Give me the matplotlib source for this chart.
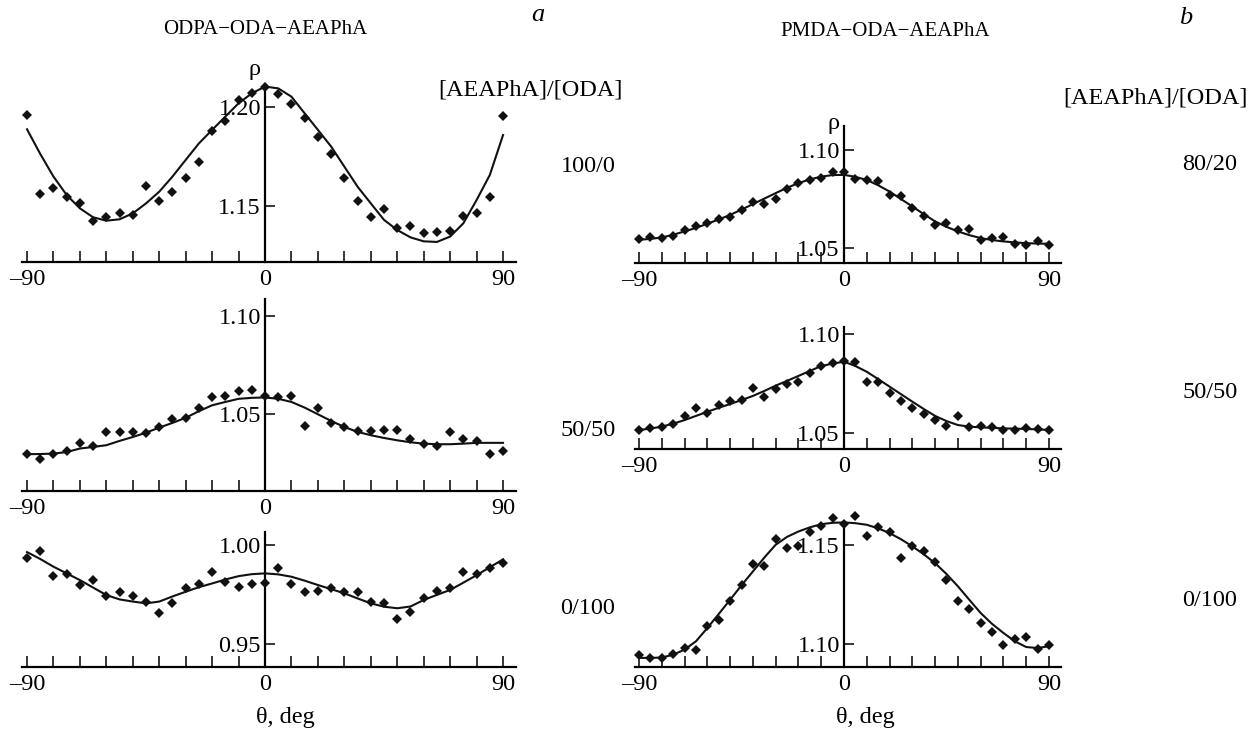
import numpy as np
import matplotlib
matplotlib.use('Agg')
import matplotlib.pyplot as plt
from matplotlib.ticker import FixedLocator, NullFormatter

plt.rcParams['font.family'] = ['Liberation Serif', 'DejaVu Serif']
plt.rcParams['font.size'] = 17.5

# Angles (deg)
theta = [-90, -85, -80, -75, -70, -65, -60, -55, -50, -45, -40, -35, -30, -25, -20, -15, -10, -5,
         0, 5, 10, 15, 20, 25, 30, 35, 40, 45, 50, 55, 60, 65, 70, 75, 80, 85, 90]

# a) ODPA-ODA-AEAPhA, [AEAPhA]/[ODA] = 100/0
a100_pts = [1.1958, 1.1560, 1.1589, 1.1544, 1.1513, 1.1426, 1.1446, 1.1466, 1.1456,
            1.1601, 1.1525, 1.1572, 1.1639, 1.1721, 1.1878, 1.1928, 1.2034, 1.2067,
            1.2097, 1.2064, 1.2013, 1.1941, 1.1846, 1.1762, 1.1641, 1.1525, 1.1446,
            1.1487, 1.1388, 1.1399, 1.1366, 1.1367, 1.1376, 1.1450, 1.1466, 1.1544, 1.1953]
a100_fit = [1.1886, 1.1762, 1.1648, 1.1555, 1.1488, 1.1443, 1.1426, 1.1433, 1.1463,
            1.1513, 1.1572, 1.1648, 1.1732, 1.1815, 1.1883, 1.1950, 1.2017, 1.2067,
            1.2101, 1.2092, 1.2050, 1.1966, 1.1883, 1.1799, 1.1698, 1.1597, 1.1513,
            1.1430, 1.1379, 1.1342, 1.1322, 1.1319, 1.1346, 1.1413, 1.1530, 1.1656, 1.1857]

# a) 50/50
a50_pts = [1.0297, 1.0271, 1.0297, 1.0309, 1.0352, 1.0334, 1.0408, 1.0408, 1.0408,
           1.0403, 1.0433, 1.0476, 1.0480, 1.0531, 1.0584, 1.0590, 1.0616, 1.0621,
           1.0590, 1.0584, 1.0590, 1.0439, 1.0532, 1.0451, 1.0433, 1.0413, 1.0413,
           1.0416, 1.0416, 1.0374, 1.0345, 1.0338, 1.0408, 1.0374, 1.0362, 1.0297, 1.0309]
a50_fit = [1.0294, 1.0295, 1.0297, 1.0305, 1.0323, 1.0331, 1.0340, 1.0362, 1.0382,
           1.0404, 1.0430, 1.0454, 1.0480, 1.0514, 1.0544, 1.0561, 1.0577, 1.0582,
           1.0584, 1.0577, 1.0561, 1.0532, 1.0498, 1.0464, 1.0433, 1.0408, 1.0391,
           1.0377, 1.0365, 1.0355, 1.0348, 1.0345, 1.0345, 1.0348, 1.0352, 1.0352, 1.0352]

# a) 0/100
a0_pts = [0.9936, 0.9970, 0.9843, 0.9852, 0.9798, 0.9823, 0.9744, 0.9764, 0.9744,
          0.9710, 0.9658, 0.9705, 0.9781, 0.9803, 0.9865, 0.9811, 0.9790, 0.9803,
          0.9810, 0.9886, 0.9801, 0.9764, 0.9769, 0.9781, 0.9764, 0.9764, 0.9714,
          0.9705, 0.9625, 0.9663, 0.9731, 0.9769, 0.9781, 0.9862, 0.9854, 0.9882, 0.9912]
a0_fit = [0.9965, 0.9930, 0.9891, 0.9857, 0.9823, 0.9785, 0.9747, 0.9725, 0.9714,
          0.9705, 0.9714, 0.9740, 0.9764, 0.9787, 0.9806, 0.9826, 0.9843, 0.9853,
          0.9857, 0.9852, 0.9840, 0.9820, 0.9798, 0.9777, 0.9756, 0.9730, 0.9705,
          0.9688, 0.9680, 0.9689, 0.9722, 0.9748, 0.9773, 0.9810, 0.9848, 0.9888, 0.9928]

# b) PMDA-ODA-AEAPhA, 80/20
b80_pts = [1.0546, 1.0559, 1.0551, 1.0564, 1.0593, 1.0610, 1.0627, 1.0647, 1.0658,
           1.0695, 1.0737, 1.0725, 1.0749, 1.0800, 1.0831, 1.0847, 1.0856, 1.0890,
           1.0886, 1.0853, 1.0847, 1.0842, 1.0771, 1.0763, 1.0703, 1.0661, 1.0619,
           1.0627, 1.0590, 1.0597, 1.0539, 1.0549, 1.0556, 1.0520, 1.0517, 1.0537, 1.0517]
b80_fit = [1.0542, 1.0547, 1.0554, 1.0568, 1.0585, 1.0603, 1.0624, 1.0646, 1.0669,
           1.0696, 1.0724, 1.0752, 1.0780, 1.0807, 1.0831, 1.0850, 1.0864, 1.0872,
           1.0873, 1.0863, 1.0847, 1.0820, 1.0788, 1.0750, 1.0712, 1.0673, 1.0636,
           1.0608, 1.0585, 1.0566, 1.0551, 1.0541, 1.0534, 1.0529, 1.0525, 1.0523, 1.0522]

# b) 50/50
b50_pts = [1.0517, 1.0529, 1.0530, 1.0547, 1.0588, 1.0626, 1.0601, 1.0641, 1.0663,
           1.0668, 1.0731, 1.0682, 1.0724, 1.0751, 1.0758, 1.0806, 1.0842, 1.0854,
           1.0865, 1.0862, 1.0758, 1.0758, 1.0705, 1.0663, 1.0626, 1.0598, 1.0567,
           1.0537, 1.0588, 1.0534, 1.0537, 1.0530, 1.0517, 1.0517, 1.0529, 1.0522, 1.0517]
b50_fit = [1.0517, 1.0524, 1.0534, 1.0549, 1.0567, 1.0588, 1.0609, 1.0629, 1.0648,
           1.0668, 1.0689, 1.0714, 1.0741, 1.0765, 1.0790, 1.0815, 1.0840, 1.0852,
           1.0862, 1.0840, 1.0811, 1.0774, 1.0736, 1.0698, 1.0660, 1.0623, 1.0588,
           1.0562, 1.0542, 1.0534, 1.0530, 1.0528, 1.0525, 1.0524, 1.0522, 1.0520, 1.0517]

# b) 0/100
b0_pts = [1.0941, 1.0928, 1.0928, 1.0950, 1.0978, 1.0970, 1.1088, 1.1121, 1.1217,
          1.1295, 1.1402, 1.1394, 1.1529, 1.1483, 1.1495, 1.1562, 1.1596, 1.1635,
          1.1604, 1.1646, 1.1542, 1.1588, 1.1562, 1.1433, 1.1492, 1.1466, 1.1411,
          1.1320, 1.1214, 1.1175, 1.1104, 1.1057, 1.0995, 1.1024, 1.1034, 1.0975, 1.0995]
b0_fit = [1.0928, 1.0928, 1.0930, 1.0944, 1.0970, 1.1012, 1.1079, 1.1150, 1.1222,
          1.1295, 1.1365, 1.1435, 1.1500, 1.1540, 1.1567, 1.1588, 1.1604, 1.1611,
          1.1613, 1.1609, 1.1601, 1.1583, 1.1559, 1.1528, 1.1492, 1.1452, 1.1407,
          1.1352, 1.1290, 1.1222, 1.1155, 1.1100, 1.1054, 1.1012, 1.0983, 1.0978, 1.0987]

W, H = 1251, 736
fig = plt.figure(figsize=(W / 100, H / 100), dpi=100)


def px(x, y):
    return x / W, 1 - y / H


def make_panel(rect, xlim, ylim, yticks, pts, fit):
    x0, y0, x1, y1 = rect  # pixel box: left, top, right, bottom
    ax = fig.add_axes([x0 / W, 1 - y1 / H, (x1 - x0) / W, (y1 - y0) / H])
    ax.set_xlim(*xlim)
    ax.set_ylim(*ylim)
    ax.patch.set_alpha(0)
    for s in ['top', 'right']:
        ax.spines[s].set_visible(False)
    ax.spines['left'].set_position(('data', 0))
    ax.spines['left'].set_linewidth(1.6)
    ax.spines['bottom'].set_linewidth(1.6)

    ax.plot(theta, fit, color='#111111', lw=1.5, clip_on=False, zorder=3)
    ax.plot(theta, pts, 'D', color='#111111', ms=5.3, mew=0, clip_on=False, zorder=4)

    ax.xaxis.set_major_locator(FixedLocator([-90, 0, 90]))
    ax.set_xticklabels(['\u201390', '0', '90'])
    ax.xaxis.set_minor_locator(FixedLocator([-80, -70, -60, -50, -40, -30, -20, -10,
                                             10, 20, 30, 40, 50, 60, 70, 80]))
    ax.xaxis.set_minor_formatter(NullFormatter())
    ax.tick_params(axis='x', which='both', direction='in', length=8, width=1.1, pad=5)

    ax.yaxis.set_major_locator(FixedLocator(yticks))
    ax.set_yticklabels(['%.2f' % v for v in yticks])
    ax.tick_params(axis='y', direction='in', length=7, width=1.1, pad=3)
    return ax


# left column
make_panel((22, 84, 516, 262), (-91.9, 94.9), (1.1218, 1.2114), [1.15, 1.20], a100_pts, a100_fit)
make_panel((22, 299, 516, 491), (-91.9, 94.9), (1.0106, 1.1087), [1.05, 1.10], a50_pts, a50_fit)
make_panel((22, 532, 516, 667), (-91.9, 94.9), (0.9382, 1.0067), [0.95, 1.00], a0_pts, a0_fit)

# right column
make_panel((635, 126, 1061, 263), (-91.76, 95.27), (1.0424, 1.1122), [1.05, 1.10], b80_pts, b80_fit)
make_panel((635, 327, 1061, 449), (-91.76, 95.27), (1.0421, 1.1037), [1.05, 1.10], b50_pts, b50_fit)
make_panel((635, 523, 1061, 667), (-91.76, 95.27), (1.0882, 1.1610), [1.10, 1.15], b0_pts, b0_fit)

# texts
fig.text(*px(265, 30), 'ODPA\u2212ODA\u2212AEAPhA', ha='center', va='center', fontsize=15)
fig.text(*px(885, 32), 'PMDA\u2212ODA\u2212AEAPhA', ha='center', va='center', fontsize=15)
fig.text(*px(538, 15), 'a', ha='center', va='center', style='italic', fontsize=19)
fig.text(*px(1186, 18), 'b', ha='center', va='center', style='italic', fontsize=19)

fig.text(*px(261, 70), '\u03c1', ha='right', va='center')
fig.text(*px(840, 124), '\u03c1', ha='right', va='center')

fig.text(*px(530, 90), '[AEAPhA]/[ODA]', ha='center', va='center')
fig.text(*px(1155, 98), '[AEAPhA]/[ODA]', ha='center', va='center')

fig.text(*px(588, 167), '100/0', ha='center', va='center')
fig.text(*px(588, 430), '50/50', ha='center', va='center')
fig.text(*px(588, 608), '0/100', ha='center', va='center')
fig.text(*px(1210, 165), '80/20', ha='center', va='center')
fig.text(*px(1210, 392), '50/50', ha='center', va='center')
fig.text(*px(1210, 600), '0/100', ha='center', va='center')

fig.text(*px(285, 717), '\u03b8, deg', ha='center', va='center')
fig.text(*px(865, 717), '\u03b8, deg', ha='center', va='center')

fig.savefig('out.png', dpi=100)
